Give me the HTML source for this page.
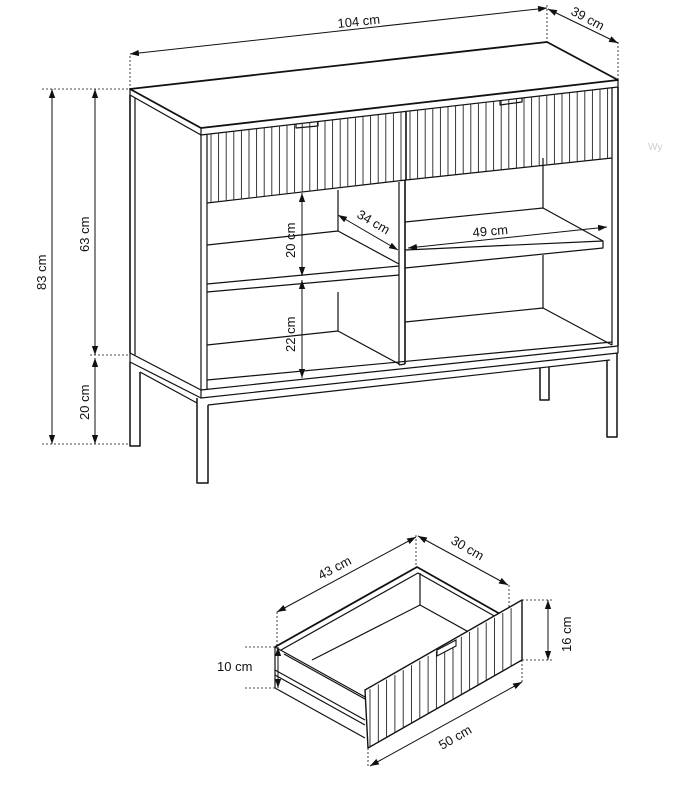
<!DOCTYPE html>
<html><head><meta charset="utf-8"><style>
html,body{margin:0;padding:0;background:#fff;}
svg{display:block;}
text{font-family:"Liberation Sans",sans-serif;font-size:13px;fill:#111;}
</style></head><body>
<svg id="s" width="689" height="790" viewBox="0 0 689 790" xmlns="http://www.w3.org/2000/svg">
<defs>
<marker id="a" viewBox="0 0 10 10" refX="10" refY="5" markerWidth="9" markerHeight="9" orient="auto-start-reverse" markerUnits="userSpaceOnUse"><path d="M0,1.5 L10,5 L0,8.5z" fill="#111"/></marker>
</defs>
<g fill="none" stroke="#111" stroke-width="1.2" stroke-linejoin="round">
<path d="M130,89 L547,42 L618,80 L201,128 Z" stroke-width="1.8"/>
<path d="M201,128 L201,135 L618,87 L618,80"/>
<path d="M130,89 L130,95 L201,135"/>
<line x1="130" y1="95" x2="130" y2="353" stroke-width="1.6"/>
<line x1="135" y1="98" x2="135" y2="355"/>
<line x1="201" y1="135" x2="201" y2="390"/>
<line x1="207" y1="135" x2="207" y2="390"/>
<line x1="618" y1="87" x2="618" y2="346" stroke-width="1.6"/>
<line x1="612" y1="88" x2="612" y2="345"/>
<path d="M207,203 L406,180 L612,158"/>
<line x1="406" y1="112" x2="406" y2="180" stroke-width="1.6"/>
<path d="M296,124 L296,128 L318,126 L318,122"/>
<path d="M500,101 L500,105 L522,102 L522,98"/>
<line x1="399" y1="182" x2="399" y2="365"/>
<line x1="405" y1="180" x2="405" y2="364" stroke-width="1.6"/>
<line x1="399" y1="365" x2="405" y2="364"/>
<line x1="338" y1="190" x2="338" y2="231"/>
<line x1="338" y1="292" x2="338" y2="331"/>
<path d="M207,245 L338,231 L399,264"/>
<path d="M207,284 L399,266 M207,292 L399,275"/>
<path d="M207,345 L338,331 L399,364"/>
<line x1="543" y1="158" x2="543" y2="208"/>
<line x1="543" y1="255" x2="543" y2="308"/>
<path d="M405,222 L543,208 L603,241 L603,248 L405,268"/>
<path d="M405,250 L603,241"/>
<path d="M405,322 L543,308 L612,345"/>
<path d="M207,380 L612,342"/>
<path d="M201,390 L618,346"/>
<path d="M130,353 L201,390"/>
<path d="M201,390 L201,398 L618,353 L618,346"/>
<path d="M208,405 L610,360"/>
<path d="M130,353 L130,362 L201,398"/>
<path d="M140,372 L197,403"/>
<path d="M130,362 L130,446 L140,446 L140,372" stroke-width="1.5"/>
<path d="M197,398 L197,483 L208,483 L208,405" stroke-width="1.5"/>
<path d="M607,361 L607,437 L617,437 L617,353" stroke-width="1.5"/>
<path d="M540,368 L540,400 L549,400 L549,367" stroke-width="1.5"/>
</g>
<g id="flutes" stroke="#222" stroke-width="0.9"></g>
<g stroke="#111" stroke-width="1" fill="none">
<g stroke-dasharray="2,2" stroke-width="0.8">
<line x1="130" y1="56" x2="130" y2="89"/><line x1="547" y1="5" x2="547" y2="42"/>
<line x1="618" y1="42" x2="618" y2="80"/>
<line x1="42" y1="89" x2="130" y2="89"/><line x1="42" y1="444" x2="130" y2="444"/>
<line x1="90" y1="355" x2="130" y2="355"/>
<line x1="245" y1="647" x2="275" y2="647"/><line x1="245" y1="688" x2="275" y2="688"/>
<line x1="277" y1="612" x2="277" y2="647"/><line x1="416" y1="535" x2="416" y2="568"/>
<line x1="509" y1="585" x2="509" y2="620"/>
<line x1="522" y1="600" x2="552" y2="600"/><line x1="522" y1="660" x2="552" y2="660"/>
<line x1="522" y1="660" x2="522" y2="683"/><line x1="368" y1="748" x2="368" y2="768"/>
</g>
<line x1="130" y1="54" x2="547" y2="8" marker-start="url(#a)" marker-end="url(#a)"/>
<line x1="548" y1="9" x2="618" y2="43" marker-start="url(#a)" marker-end="url(#a)"/>
<line x1="52" y1="89" x2="52" y2="444" marker-start="url(#a)" marker-end="url(#a)"/>
<line x1="95" y1="89" x2="95" y2="355" marker-start="url(#a)" marker-end="url(#a)"/>
<line x1="95" y1="358" x2="95" y2="444" marker-start="url(#a)" marker-end="url(#a)"/>
<line x1="302" y1="193" x2="302" y2="276" marker-start="url(#a)" marker-end="url(#a)"/>
<line x1="302" y1="280" x2="302" y2="378" marker-start="url(#a)" marker-end="url(#a)"/>
<line x1="338" y1="215" x2="398" y2="250" marker-start="url(#a)" marker-end="url(#a)"/>
<line x1="408" y1="248" x2="607" y2="227" marker-start="url(#a)" marker-end="url(#a)"/>
<line x1="277" y1="612" x2="416" y2="537" marker-start="url(#a)" marker-end="url(#a)"/>
<line x1="418" y1="536" x2="508" y2="585" marker-start="url(#a)" marker-end="url(#a)"/>
<line x1="548" y1="600" x2="548" y2="660" marker-start="url(#a)" marker-end="url(#a)"/>
<line x1="278" y1="647" x2="278" y2="688" marker-start="url(#a)" marker-end="url(#a)"/>
<line x1="370" y1="766" x2="522" y2="682" marker-start="url(#a)" marker-end="url(#a)"/>
</g>
<text x="338" y="28" transform="rotate(-6 338 28)">104 cm</text>
<text transform="translate(570,14) rotate(28)">39 cm</text>
<text transform="translate(46,290) rotate(-90)">83 cm</text>
<text transform="translate(89,252) rotate(-90)">63 cm</text>
<text transform="translate(89,420) rotate(-90)">20 cm</text>
<text transform="translate(295,258) rotate(-90)">20 cm</text>
<text transform="translate(295,352) rotate(-90)">22 cm</text>
<text transform="translate(356,217) rotate(30)">34 cm</text>
<text transform="translate(473,237) rotate(-5)">49 cm</text>
<text transform="translate(321,580) rotate(-28)">43 cm</text>
<text transform="translate(450,543) rotate(30)">30 cm</text>
<text transform="translate(571,652) rotate(-90)">16 cm</text>
<text x="217" y="671">10 cm</text>
<text transform="translate(442,750) rotate(-30)">50 cm</text>
<text x="648" y="150" style="font-size:10px;fill:#ccd">Wy</text>
<g fill="none" stroke="#111" stroke-width="1.2" stroke-linejoin="round">
<path d="M275,647 L417,567 L509,619" stroke-width="1.8"/>
<path d="M281,650 L418,573 L505,622"/>
<path d="M275,647 L365,697"/>
<path d="M284,654 L365,699"/>
<line x1="420" y1="573" x2="420" y2="605"/>
<path d="M312,660 L420,605 L494,646"/>
<line x1="275" y1="647" x2="275" y2="688"/>
<path d="M275,688 L365,738"/>
<path d="M275,670 L365,720 M275,675 L365,725"/>
<path d="M365,690 L522,600 L522,660 L368,748 Z" stroke-width="1.4" fill="#fff"/>
</g>
<g id="df" stroke="#222" stroke-width="0.9"></g>
<path d="M437,650 L437,656 L456,646 L456,640 Z" fill="#fff" stroke="#111" stroke-width="1.1"/>
</svg>
<script>
(function(){
var ns="http://www.w3.org/2000/svg";
function fl(g,x1,x2,ta,tb,ba,bb,step){
 var G=document.getElementById(g);
 for(var x=x1;x<=x2;x+=step){
  var ty=ta[1]+(tb[1]-ta[1])*(x-ta[0])/(tb[0]-ta[0]);
  var by=ba[1]+(bb[1]-ba[1])*(x-ba[0])/(bb[0]-ba[0]);
  var l=document.createElementNS(ns,"line");
  l.setAttribute("x1",x.toFixed(1));l.setAttribute("x2",x.toFixed(1));
  l.setAttribute("y1",ty.toFixed(1));l.setAttribute("y2",by.toFixed(1));
  G.appendChild(l);
 }
}
fl("flutes",211,402,[201,135],[618,87],[207,203],[406,180],7.6);
fl("flutes",410,610,[201,135],[618,87],[406,180],[612,158],7.6);
fl("df",370,518,[365,692],[522,602],[368,748],[522,660],8.3);
})();
</script>
</body></html>
